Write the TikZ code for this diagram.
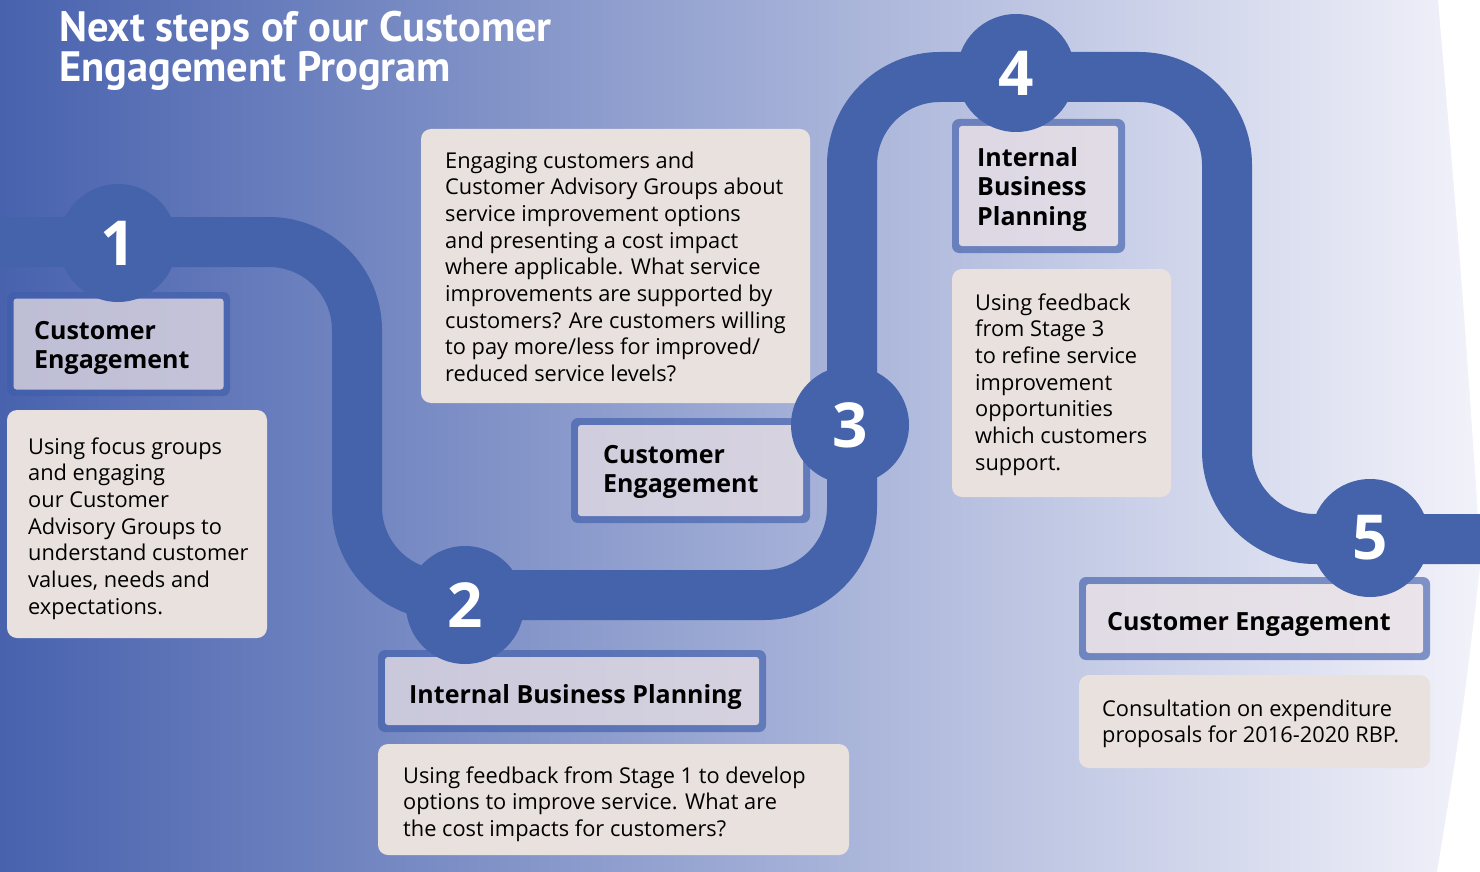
\documentclass[tikz,border=0pt]{standalone}
\usepackage{fontspec}
\setmainfont{Open Sans}
\newfontfamily\titlefont{PT Sans}
\definecolor{pathblue}{HTML}{4463AB}
\definecolor{bgleft}{HTML}{4862AE}
\definecolor{bgright}{HTML}{F2F2FA}
\definecolor{descfill}{HTML}{E9E1DD}
\definecolor{framecol}{HTML}{3F5EAB}
\definecolor{labfill}{HTML}{EBE1E5}
\tikzset{
  stepcircle/.style={circle, fill=pathblue, minimum size=118pt, inner sep=0pt, text=white,
    font=\bfseries\fontsize{62}{62}\selectfont},
  bodytext/.style={anchor=base west, inner sep=0pt, align=left, text=black,
    font=\fontsize{21.8}{26.7}\selectfont},
  labeltext/.style={anchor=base west, inner sep=0pt, align=left, text=black,
    font=\bfseries\fontsize{25}{29.5}\selectfont},
  framering/.style={fill=framecol, fill opacity=0.64, even odd rule},
  labelfill/.style={fill=labfill, fill opacity=0.72},
  descbox/.style={fill=descfill, rounded corners=10pt},
}
\begin{document}
\begin{tikzpicture}[x=1pt,y=-1pt]
\useasboundingbox (0,0) rectangle (1480,872);
\clip (0,0) rectangle (1480,872);
% background
\shade[left color=bgleft, right color=bgright] (0,0) rectangle (1480,872);
\fill[white] (1438,0) .. controls (1462,280) .. (1481,560) .. controls (1462,720) .. (1437,872) -- (1490,872) -- (1490,0) -- cycle;
% title (anchor = baseline of last line)
\node[anchor=base west, inner sep=0pt, align=left, text=white,
  font=\titlefont\bfseries\fontsize{42.5}{40}\selectfont] (title) at (59,82)
  {Next steps of our Customer\\Engagement Program};
% road
\draw[pathblue, line width=50pt, rounded corners=88pt]
  (-20,242) -- (357,242) -- (357,595) -- (852,595) -- (852,77) -- (1227,77) -- (1227,539) -- (1500,539);
% description boxes
\fill[descbox] (7,410) rectangle (267,638);
\fill[descbox] (421,129) rectangle (810,403);
\fill[descbox] (378,744) rectangle (849,855);
\fill[descbox] (952,269) rectangle (1171,497);
\fill[descbox] (1079,675) rectangle (1430,768);
% label boxes
\fill[framering, rounded corners=7pt] (7,292) rectangle (230,396) [rounded corners=3pt] (13.5,298.5) rectangle (223.5,389.5);
\fill[labelfill, rounded corners=3pt] (13.5,298.5) rectangle (223.5,389.5);
\fill[framering, rounded corners=7pt] (571,418) rectangle (810,523) [rounded corners=3pt] (578,425) rectangle (803,516);
\fill[labelfill, rounded corners=3pt] (578,425) rectangle (803,516);
\fill[framering, rounded corners=7pt] (378,650) rectangle (766,732) [rounded corners=3pt] (385,657) rectangle (759,725);
\fill[labelfill, rounded corners=3pt] (385,657) rectangle (759,725);
\fill[framering, rounded corners=7pt] (952,119) rectangle (1125,253) [rounded corners=3pt] (959,126) rectangle (1118,246);
\fill[labelfill, rounded corners=3pt] (959,126) rectangle (1118,246);
\fill[framering, rounded corners=7pt] (1079,577) rectangle (1430,660) [rounded corners=3pt] (1086,584) rectangle (1423,653);
\fill[labelfill, rounded corners=3pt] (1086,584) rectangle (1423,653);
% texts (anchor = baseline of last line)
\node[labeltext] (l1) at (34,368.5) {Customer\\Engagement};
\node[bodytext] (d1) at (28,614.2) {Using focus groups\\and engaging\\our Customer\\Advisory Groups to\\understand customer\\values, needs and\\expectations.};
\node[bodytext] (d3) at (445,381.6) {Engaging customers and\\Customer Advisory Groups about\\service improvement options\\and presenting a cost impact\\where applicable. What service\\improvements are supported by\\customers? Are customers willing\\to pay more/less for improved/\\reduced service levels?};
\node[labeltext] (l3) at (603,492.5) {Customer\\Engagement};
\node[labeltext] (l2) at (409,703) {Internal Business Planning};
\node[bodytext] (d2) at (403,836.4) {Using feedback from Stage 1 to develop\\options to improve service. What are\\the cost impacts for customers?};
\node[labeltext] (l4) at (977,225) {Internal\\Business\\Planning};
\node[bodytext] (d4) at (975,470.2) {Using feedback\\from Stage 3\\to refine service\\improvement\\opportunities\\which customers\\support.};
\node[labeltext] (l5) at (1107,630) {Customer Engagement};
\node[bodytext] (d5) at (1102,742.7) {Consultation on expenditure\\proposals for 2016-2020 RBP.};
% step circles
\node[stepcircle] (c1) at (118,243) {1};
\node[stepcircle] (c2) at (465,605) {2};
\node[stepcircle] (c3) at (850,425) {3};
\node[stepcircle] (c4) at (1016,73) {4};
\node[stepcircle] (c5) at (1370,538) {5};
\end{tikzpicture}
\end{document}
